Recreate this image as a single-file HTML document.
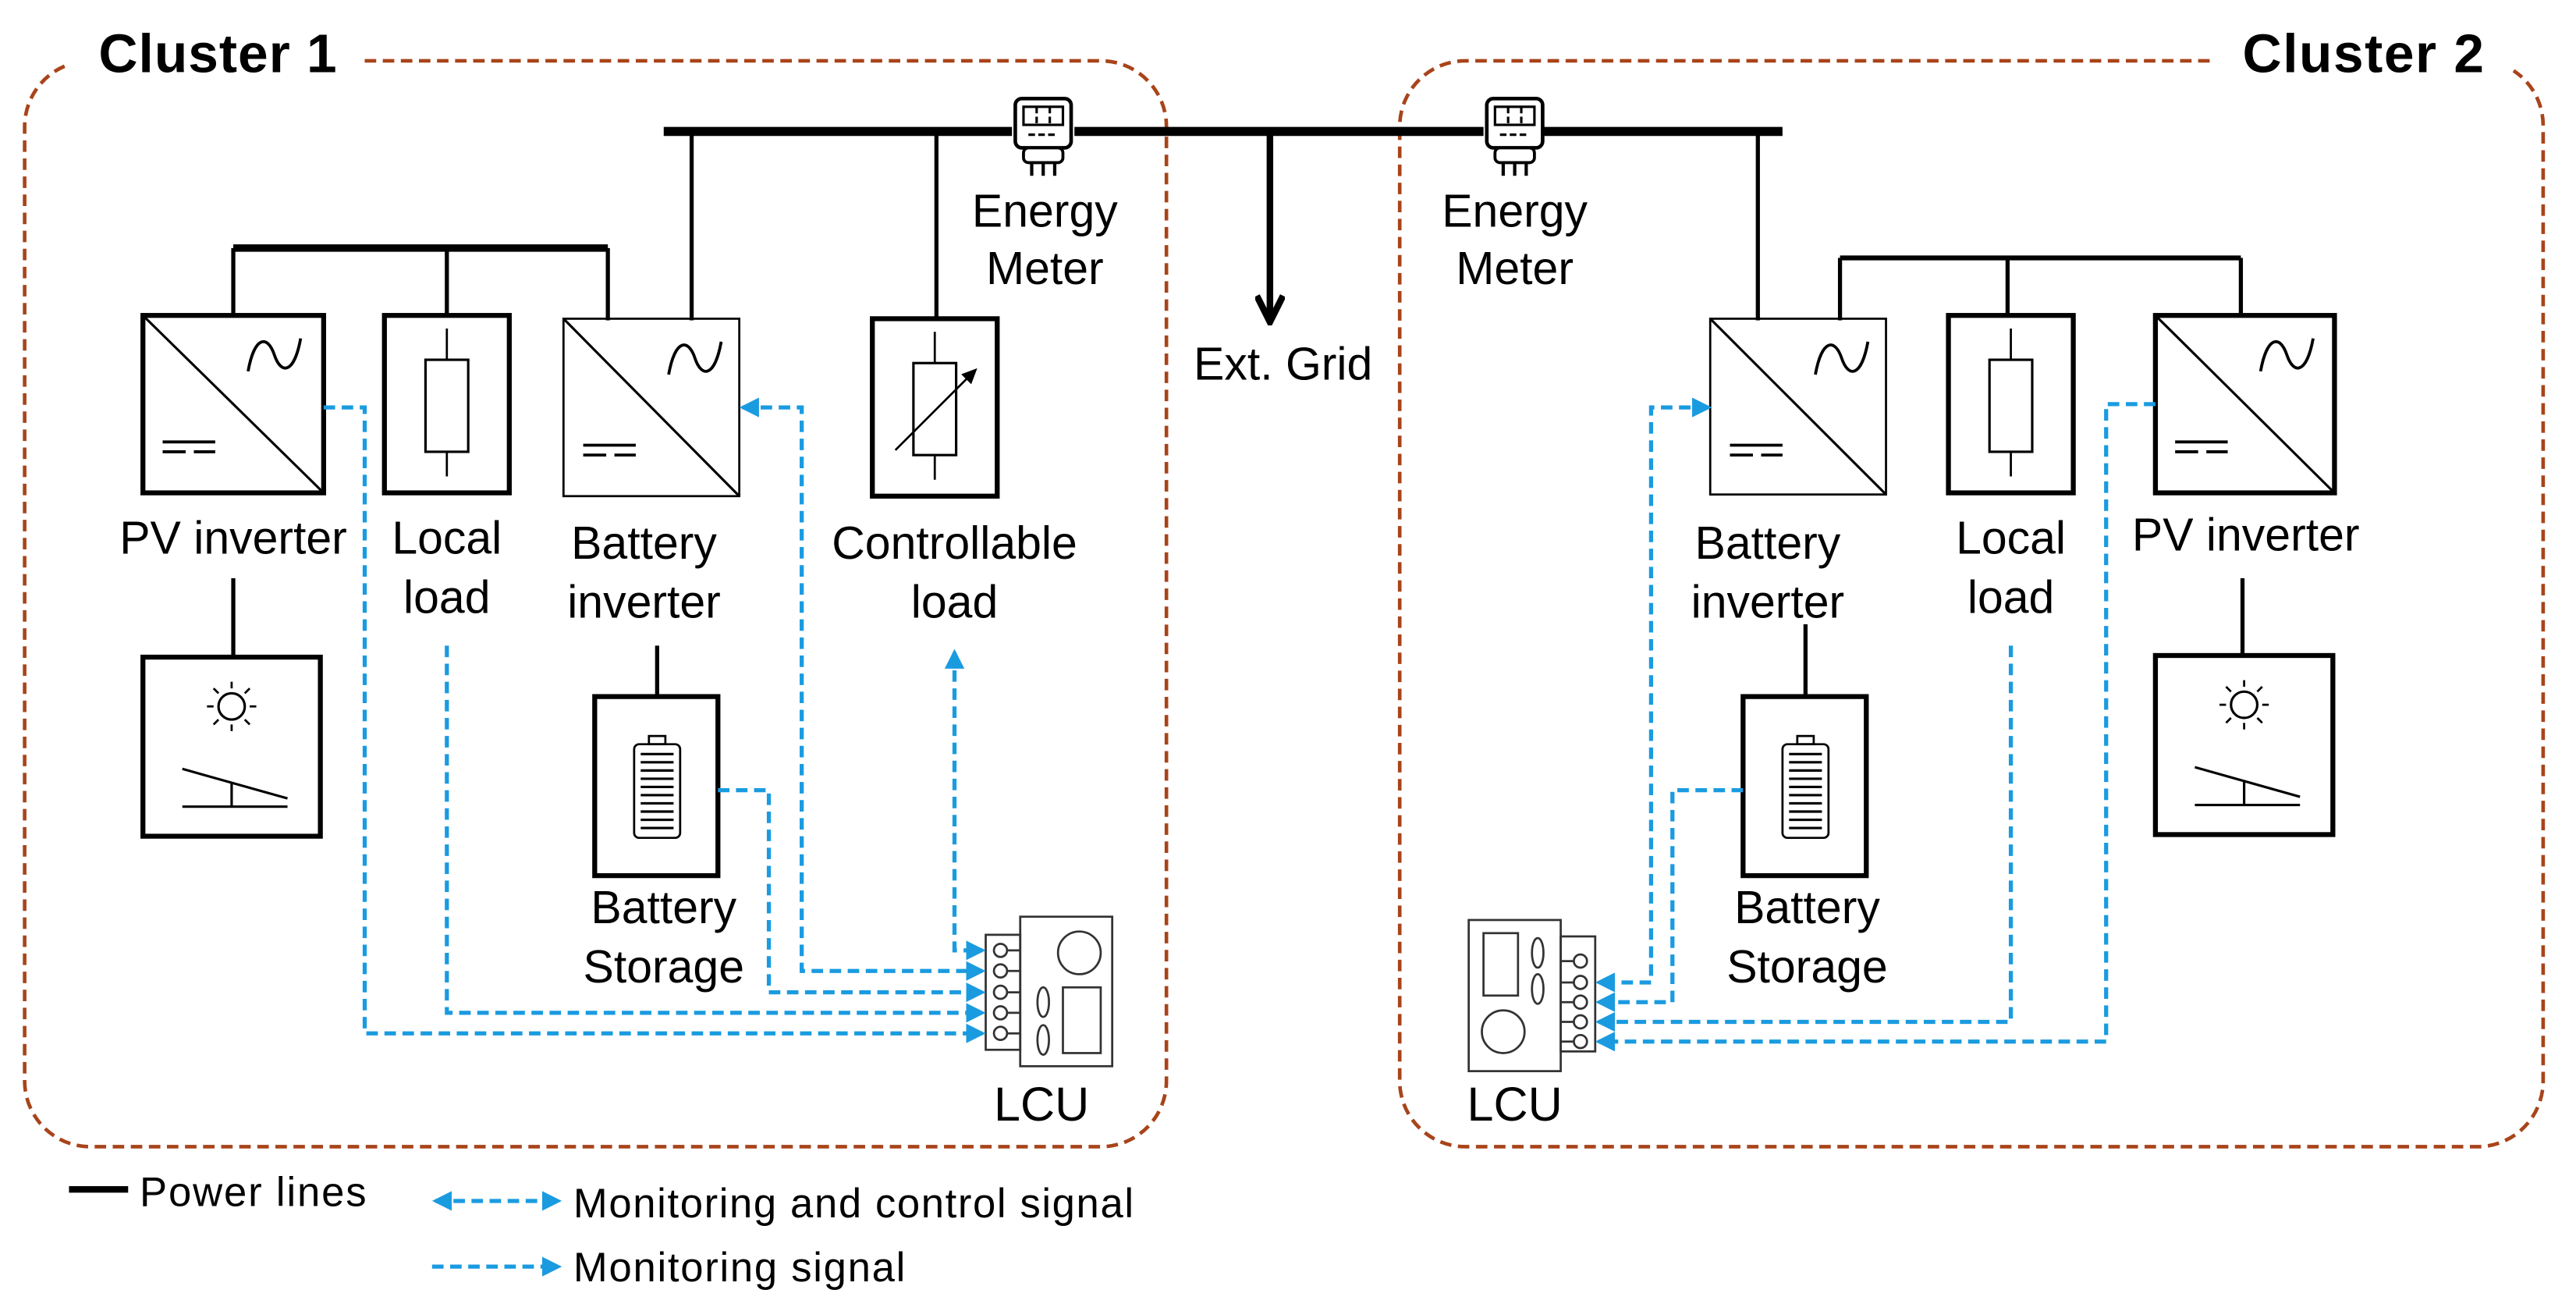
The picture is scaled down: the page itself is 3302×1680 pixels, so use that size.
<!DOCTYPE html>
<html><head><meta charset="utf-8"><style>
html,body{margin:0;padding:0;background:#fff;}
svg{display:block;}
text{font-family:"Liberation Sans",Arial,sans-serif;fill:#000;}
</style></head><body>
<svg width="3302" height="1680" viewBox="0 0 1568 798" preserveAspectRatio="none" xmlns="http://www.w3.org/2000/svg">
<defs>
<marker id="ah" markerWidth="12" markerHeight="12" refX="10" refY="6" orient="auto-start-reverse" markerUnits="userSpaceOnUse">
<path d="M0,0 L12,6 L0,12 Z" fill="#1a9be0"/></marker>
<marker id="bk" markerWidth="18" markerHeight="22" refX="9" refY="20" orient="0" markerUnits="userSpaceOnUse">
<path d="M1,4 L9,20 L17,4" fill="none" stroke="#000" stroke-width="4"/></marker>
</defs>
<g fill="none" stroke="#a8441a" stroke-width="2.2" stroke-dasharray="7,4">
<path d="M222,37 H670 A40,40 0 0 1 710,77 V658 A40,40 0 0 1 670,698 H55 A40,40 0 0 1 15,658 V77 A40,40 0 0 1 40,40"/>
<path d="M1345,37 H892 A40,40 0 0 0 852,77 V658 A40,40 0 0 0 892,698 H1508 A40,40 0 0 0 1548,658 V77 A40,40 0 0 0 1530,43"/>
</g>
<text x="60" y="44" font-size="33" font-weight="bold" textLength="145">Cluster 1</text>
<text x="1365" y="44" font-size="33" font-weight="bold" textLength="147">Cluster 2</text>
<g stroke="#000" fill="none">
<path d="M404,80 H616 M654,80 H903 M940,80 H1085" stroke-width="5.5"/>
<path d="M773,80 V196" stroke-width="4" marker-end="url(#bk)"/>
<path d="M142,151 H370" stroke-width="4.5"/>
<path d="M1120,157 H1364" stroke-width="3"/>
<path d="M142,151 V193 M272,151 V193 M370,151 V195 M421,80 V195 M570,80 V195 M142,352 V400 M400,393 V424" stroke-width="2.5"/>
<path d="M1070,80 V195 M1120,157 V195 M1222,157 V193 M1364,157 V193 M1365,352 V399 M1099,380 V424" stroke-width="2.5"/>
</g>
<g transform="translate(618,60)" fill="#fff" stroke="#000">
<rect x="0" y="0" width="34" height="30" rx="4" stroke-width="2.2"/>
<rect x="5" y="5" width="24" height="11" stroke-width="1.5"/>
<path d="M13,5 V16 M21,5 V16 M8,22 H26" stroke-width="1.5" stroke-dasharray="4,2"/>
<rect x="5" y="30" width="24" height="9" rx="3" stroke-width="1.8"/>
<path d="M10,39 V47 M17,39 V47 M24,39 V47" stroke-width="2"/>
</g>
<g transform="translate(905,60)" fill="#fff" stroke="#000">
<rect x="0" y="0" width="34" height="30" rx="4" stroke-width="2.2"/>
<rect x="5" y="5" width="24" height="11" stroke-width="1.5"/>
<path d="M13,5 V16 M21,5 V16 M8,22 H26" stroke-width="1.5" stroke-dasharray="4,2"/>
<rect x="5" y="30" width="24" height="9" rx="3" stroke-width="1.8"/>
<path d="M10,39 V47 M17,39 V47 M24,39 V47" stroke-width="2"/>
</g>
<g font-size="28" text-anchor="middle">
<text x="636" y="138">Energy</text><text x="636" y="173">Meter</text>
<text x="922" y="138">Energy</text><text x="922" y="173">Meter</text>
<text x="781" y="231">Ext. Grid</text>
<text x="142" y="337">PV inverter</text>
<text x="272" y="337">Local</text><text x="272" y="373">load</text>
<text x="392" y="340">Battery</text><text x="392" y="376">inverter</text>
<text x="581" y="340">Controllable</text><text x="581" y="376">load</text>
<text x="404" y="562">Battery</text><text x="404" y="598">Storage</text>
<text x="634" y="682" font-size="29">LCU</text>
<text x="1076" y="340">Battery</text><text x="1076" y="376">inverter</text>
<text x="1224" y="337">Local</text><text x="1224" y="373">load</text>
<text x="1367" y="335">PV inverter</text>
<text x="1100" y="562">Battery</text><text x="1100" y="598">Storage</text>
<text x="922" y="682" font-size="29">LCU</text>
</g>
<g fill="none" stroke="#000">
<g transform="translate(87,192)"><rect width="110" height="108" stroke-width="3"/><path d="M0,0 L110,108" stroke-width="1.5"/><path d="M64,34 C68,12 76,12 80,24 C84,36 92,36 96,14" stroke-width="1.8"/><path d="M12,77 H44 M12,83 H26 M31,83 H44" stroke-width="1.8"/></g>
<g transform="translate(343,194)"><rect width="107" height="108" stroke-width="1.3"/><path d="M0,0 L107,108" stroke-width="1.5"/><path d="M64,34 C68,12 76,12 80,24 C84,36 92,36 96,14" stroke-width="1.8"/><path d="M12,77 H44 M12,83 H26 M31,83 H44" stroke-width="1.8"/></g>
<g transform="translate(1041,194)"><rect width="107" height="107" stroke-width="1.3"/><path d="M0,0 L107,107" stroke-width="1.5"/><path d="M64,34 C68,12 76,12 80,24 C84,36 92,36 96,14" stroke-width="1.8"/><path d="M12,77 H44 M12,83 H26 M31,83 H44" stroke-width="1.8"/></g>
<g transform="translate(1312,192)"><rect width="109" height="108" stroke-width="3"/><path d="M0,0 L109,108" stroke-width="1.5"/><path d="M64,34 C68,12 76,12 80,24 C84,36 92,36 96,14" stroke-width="1.8"/><path d="M12,77 H44 M12,83 H26 M31,83 H44" stroke-width="1.8"/></g>
<g transform="translate(234,192)"><rect width="76" height="108" stroke-width="3"/><path d="M38,8 V98" stroke-width="1.3"/><rect x="25" y="27" width="26" height="56" fill="#fff" stroke-width="1.5"/></g>
<g transform="translate(1186,192)"><rect width="76" height="108" stroke-width="3"/><path d="M38,8 V98" stroke-width="1.3"/><rect x="25" y="27" width="26" height="56" fill="#fff" stroke-width="1.5"/></g>
<g transform="translate(531,194)"><rect width="76" height="108" stroke-width="3"/><path d="M38,8 V98" stroke-width="1.3"/><rect x="25" y="27" width="26" height="56" fill="#fff" stroke-width="1.5"/><path d="M14,80 L62,32" stroke-width="1.3"/><path d="M55,34 L63,31 L60,39 Z" fill="#000" stroke-width="1"/></g>
<g transform="translate(87,400)"><rect width="108" height="109" stroke-width="3"/><circle cx="54" cy="30" r="8" stroke-width="1.5"/><path d="M54,15 V19 M54,41 V45 M39,30 H43 M65,30 H69 M43,19 L46,22 M62,38 L65,41 M65,19 L62,22 M46,38 L43,41" stroke-width="1.3"/><path d="M24,68 L88,86 M54,77 V91 M24,91 H88" stroke-width="1.5"/></g>
<g transform="translate(1312,399)"><rect width="108" height="109" stroke-width="3"/><circle cx="54" cy="30" r="8" stroke-width="1.5"/><path d="M54,15 V19 M54,41 V45 M39,30 H43 M65,30 H69 M43,19 L46,22 M62,38 L65,41 M65,19 L62,22 M46,38 L43,41" stroke-width="1.3"/><path d="M24,68 L88,86 M54,77 V91 M24,91 H88" stroke-width="1.5"/></g>
<g transform="translate(362,424)"><rect width="75" height="109" stroke-width="3"/><rect x="24" y="29" width="28" height="57" rx="3" stroke-width="1.3"/><rect x="33" y="24" width="10" height="5" stroke-width="1.3"/><path d="M28,35 H48 M28,40 H48 M28,45 H48 M28,50 H48 M28,55 H48 M28,60 H48 M28,65 H48 M28,70 H48 M28,75 H48 M28,80 H48" stroke-width="1.5"/></g>
<g transform="translate(1061,424)"><rect width="75" height="109" stroke-width="3"/><rect x="24" y="29" width="28" height="57" rx="3" stroke-width="1.3"/><rect x="33" y="24" width="10" height="5" stroke-width="1.3"/><path d="M28,35 H48 M28,40 H48 M28,45 H48 M28,50 H48 M28,55 H48 M28,60 H48 M28,65 H48 M28,70 H48 M28,75 H48 M28,80 H48" stroke-width="1.5"/></g>
<g stroke="#333" stroke-width="1.3">
<rect x="621" y="558" width="56" height="91"/>
<rect x="600" y="569" width="21" height="70"/>
<circle cx="609" cy="578.5" r="4"/><circle cx="609" cy="591" r="4"/><circle cx="609" cy="604" r="4"/><circle cx="609" cy="616.5" r="4"/><circle cx="609" cy="629" r="4"/>
<path d="M613,578.5 H621 M613,591 H621 M613,604 H621 M613,616.5 H621 M613,629 H621"/>
<circle cx="657" cy="580" r="13"/>
<rect x="647" y="601" width="23" height="40"/>
<ellipse cx="635" cy="610" rx="3.5" ry="9"/><ellipse cx="635" cy="633" rx="3.5" ry="9"/>
</g>
<g stroke="#333" stroke-width="1.3">
<rect x="894" y="560" width="56" height="92"/>
<rect x="950" y="570" width="21" height="70"/>
<circle cx="962" cy="585" r="4"/><circle cx="962" cy="598" r="4"/><circle cx="962" cy="610" r="4"/><circle cx="962" cy="622" r="4"/><circle cx="962" cy="634" r="4"/>
<path d="M950,585 H958 M950,598 H958 M950,610 H958 M950,622 H958 M950,634 H958"/>
<rect x="903" y="568" width="21" height="38"/>
<ellipse cx="936" cy="580" rx="3.5" ry="9"/><ellipse cx="936" cy="602" rx="3.5" ry="9"/>
<circle cx="915" cy="628" r="13"/>
</g>
</g>
<g fill="none" stroke="#1a9be0" stroke-width="2.5" stroke-dasharray="7,4">
<path d="M581,397 V578.5 H598" marker-start="url(#ah)" marker-end="url(#ah)"/>
<path d="M452,248 H488 V591 H598" marker-start="url(#ah)" marker-end="url(#ah)"/>
<path d="M437,481 H468 V604 H598" marker-end="url(#ah)"/>
<path d="M272,393 V616.5 H598" marker-end="url(#ah)"/>
<path d="M197,248 H222 V629 H598" marker-end="url(#ah)"/>
<path d="M1040,248 H1005 V598 H973" marker-start="url(#ah)" marker-end="url(#ah)"/>
<path d="M1061,481 H1018 V610 H973" marker-end="url(#ah)"/>
<path d="M1224,393 V622 H973" marker-end="url(#ah)"/>
<path d="M1312,246 H1282 V634 H973" marker-end="url(#ah)"/>
<path d="M265,731 H340" marker-start="url(#ah)" marker-end="url(#ah)"/>
<path d="M263,771 H340" marker-end="url(#ah)"/>
</g>
<path d="M42,724 H78" stroke="#000" stroke-width="4"/>
<g font-size="25">
<text x="85" y="734" textLength="138">Power lines</text>
<text x="349" y="741" textLength="341">Monitoring and control signal</text>
<text x="349" y="780" textLength="202">Monitoring signal</text>
</g>
</svg>
</body></html>
